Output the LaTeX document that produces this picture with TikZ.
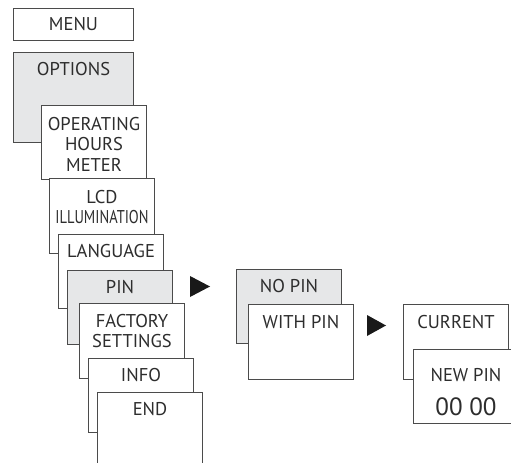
\documentclass[tikz,border=0pt]{standalone}
\usepackage{fontspec}
\setmainfont{PT Sans}

\begin{document}
\begin{tikzpicture}[x=1bp, y=-1bp,
        box/.style={draw=linegray, line width=1bp, fill=white, anchor=north west,
            minimum width=105bp, minimum height=75bp, inner sep=0pt},
        greybox/.style={box, fill=boxgray},
        txt/.style={text=textgray, font=\fontsize{18.5bp}{20.5bp}\selectfont,
            align=center, inner sep=0pt}]
        \definecolor{linegray}{RGB}{75,75,75}
        \definecolor{boxgray}{RGB}{230,231,232}
        \definecolor{textgray}{RGB}{45,45,45}

        \useasboundingbox (0,0) rectangle (511,463);

        % main menu column
        \node[box, minimum width=120bp, minimum height=32bp] (menu) at (13,8) {};
        \node[txt] (menuT) at (menu.center) {MENU};

        \node[greybox, minimum width=120bp, minimum height=90bp] (options) at (13,52) {};
        \node[txt] (optionsT) at ([yshift=-17bp]options.north) {OPTIONS};

        \node[box, minimum height=74bp] (hours) at (41,105) {};
        \node[txt] (hoursT) at ([yshift=-39bp]hours.north) {OPERATING\\HOURS\\METER};

        \node[box] (lcd) at (49,178) {};
        \node[txt] (lcdT) at ([yshift=-29bp]lcd.north) {LCD\\\scalebox{0.78}[1]{ILLUMINATION}};

        \node[box, minimum height=74bp] (language) at (58,234) {};
        \node[txt] (languageT) at ([yshift=-17bp]language.north) {LANGUAGE};

        \node[greybox, minimum height=74bp] (pin) at (67,270) {};
        \node[txt] (pinT) at ([yshift=-17bp]pin.north) {PIN};

        \node[box] (factory) at (79,303) {};
        \node[txt] (factoryT) at ([yshift=-28bp]factory.north) {FACTORY\\SETTINGS};

        \node[box, minimum height=74bp] (info) at (88,358) {};
        \node[txt] (infoT) at ([yshift=-17bp]info.north) {INFO};

        \node[box] (finish) at (97,392) {};
        \node[txt] (finishT) at ([yshift=-17bp]finish.north) {END};

        % pin submenu
        \fill[black!90] (190,276) -- (210,286.5) -- (190,297) -- cycle;

        \node[greybox, minimum height=74bp] (nopin) at (236,269) {};
        \node[txt] (nopinT) at ([yshift=-17bp]nopin.north) {NO PIN};

        \node[box] (withpin) at (248,304) {};
        \node[txt] (withpinT) at ([yshift=-18bp]withpin.north) {WITH PIN};

        \fill[black!90] (367,315) -- (386,325.5) -- (367,336) -- cycle;

        \node[box] (current) at (403,304) {};
        \node[txt] (currentT) at ([yshift=-18bp]current.north) {CURRENT};

        \node[box, minimum height=74bp] (newpin) at (413,349) {};
        \node[txt] (newpinT) at ([yshift=-26bp]newpin.north) {NEW PIN};
        \node[txt, font=\fontsize{25bp}{28bp}\selectfont] (codeT) at ([yshift=-58bp]newpin.north) {00 00};
    \end{tikzpicture}
\end{document}
